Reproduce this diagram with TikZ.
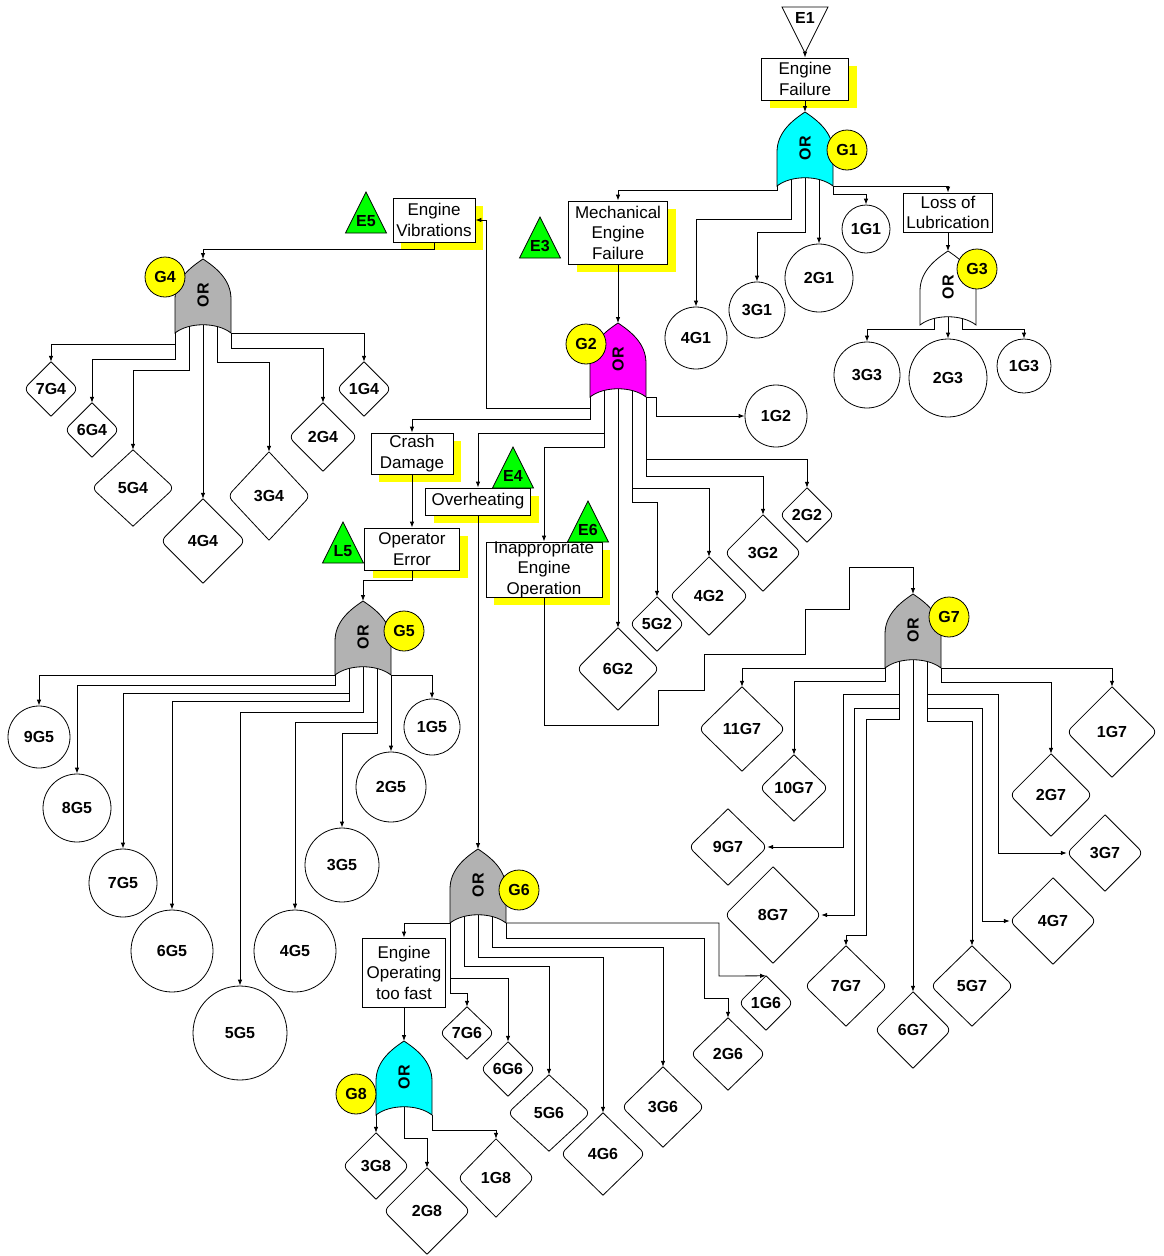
\documentclass[tikz,border=0pt]{standalone}
\usepackage{fontspec}
\setmainfont{Liberation Sans}
\usetikzlibrary{arrows.meta,shadows}

\definecolor{gategray}{RGB}{178,178,178}
\definecolor{gatecyan}{RGB}{0,255,255}
\definecolor{gatemagenta}{RGB}{255,0,255}
\definecolor{tagyellow}{RGB}{255,255,0}
\definecolor{trigreen}{RGB}{0,255,0}
\newcommand{\boxfont}{\fontsize{17}{20.5}\selectfont}
\newcommand{\lblfont}{\fontsize{16}{19}\selectfont\bfseries}

\pgfdeclarelayer{front}
\pgfsetlayers{main,front}

\tikzset{
    conn/.style={draw, line width=0.8pt, -{Latex[length=6pt,width=4.5pt]}},
    evbox/.style={draw, fill=white, align=center, inner sep=1pt, font=\boxfont, line width=0.8pt},
    evtext/.style={align=center, inner sep=0pt, font=\boxfont},
    shad/.style={drop shadow={shadow xshift=8pt, shadow yshift=-8pt, fill=tagyellow, opacity=1}},
    basic/.style={circle, draw, inner sep=0pt, font=\lblfont, line width=0.8pt},
    diam/.style={rectangle, inner sep=0pt, font=\lblfont},
    diamline/.style={line width=0.8pt, rounded corners=6pt},
    glabel/.style={circle, draw, fill=tagyellow, minimum size=40pt, inner sep=0pt, font=\lblfont, line width=0.8pt},
    pics/orgate/.style={code={
        \draw[line width=0.8pt, fill=#1] (0,0) .. controls (-12,8) and (-28,20) .. (-28,40) -- (-28,74)
            .. controls (-14,63) and (14,63) .. (28,74) -- (28,40) .. controls (28,20) and (12,8) .. (0,0) -- cycle;
        \node[rotate=90, font=\lblfont, inner sep=0pt] (-or) at (0,36) {OR};
        \coordinate (-in) at (0,0);
        \coordinate (-a) at (-14,60);
        \coordinate (-b) at (0,60);
        \coordinate (-c) at (14,60);
        \coordinate (-l) at (-28,74);
        \coordinate (-r) at (28,74);
    }},
    pics/evtri/.style={code={
        \draw[line width=0.8pt, fill=trigreen] (-20.5,0) -- (0,-41) -- (20.5,0) -- cycle;
        \node[font=\lblfont, inner sep=0pt] (-t) at (0,-12) {#1};
    }}
}

\begin{document}
\begin{tikzpicture}[x=1pt, y=-1pt]
    \useasboundingbox (0,0) rectangle (1164,1256);

    % intermediate events
    \node[evbox, shad, minimum width=87, minimum height=42] (ef) at (805,79) {Engine\\Failure};
    \node[evbox, shad, minimum width=99, minimum height=63] (mef) at (618,232.5) {Mechanical\\Engine\\Failure};
    \node[evbox, minimum width=89, minimum height=39] (lol) at (948,212.5) {Loss of\\Lubrication};
    \node[evbox, shad, minimum width=82, minimum height=44] (ev) at (434,220) {Engine\\Vibrations};
    \node[evbox, shad, minimum width=82, minimum height=41] (cd) at (412,453.5) {Crash\\Damage};
    \node[evbox, shad, minimum width=105, minimum height=27] (oh) at (478,501.5) {Overheating};
    \node[evbox, shad, minimum width=95, minimum height=42] (op) at (412,549) {Operator\\Error};
    \node[evbox, shad, minimum width=116, minimum height=55] (ieo) at (544,569.5) {};
    \node[evtext] (ieot) at (ieo) {Inappropriate\\Engine\\Operation};
    \node[evbox, minimum width=83, minimum height=69] (eotf) at (404,972.5) {Engine\\Operating\\too fast};

    % top event
    \draw[line width=0.8pt] (782,7) -- (828,7) -- (805,53) -- cycle;
    \node[font=\lblfont, inner sep=0pt] (e1) at (805,18) {E1};
    \coordinate (e1tip) at (805,53);

    % transfer triangles
    \pic (e3) at (540,258) {evtri=E3};
    \pic (e4) at (513,488) {evtri=E4};
    \pic (e5) at (366,233) {evtri=E5};
    \pic (e6) at (588,542) {evtri=E6};
    \pic (l5) at (343,563) {evtri=L5};

    % basic events
    \foreach \n/\x/\y/\r in {1G1/866/229/24, 2G1/819/278/34, 3G1/757/310/28, 4G1/696/338/31,
        1G2/776/416/31, 1G3/1024/366/27, 2G3/948/378/39, 3G3/867/375/33,
        1G5/432/727/28, 2G5/391/787/35, 3G5/342/865/37, 4G5/295/951/41,
        5G5/240/1033/47, 6G5/172/951/41, 7G5/123/883/34, 8G5/77/808/34, 9G5/39/737/31}
        \node[basic, minimum size=2*\r] (c\n) at (\x,\y) {\n};

    % undeveloped events
    \foreach \n/\x/\y/\w/\h in {1G4/364/389/27/27, 2G4/323/437/34/34, 3G4/269/496/41/44,
        4G4/203/541/42/42, 5G4/133/488/41/38, 6G4/92/430/27/27, 7G4/51/389/27/27,
        2G2/807/515/27/27, 3G2/763/553/38/38, 4G2/709/596/39/39, 5G2/657/624/27/27, 6G2/618/669/41/41,
        1G6/766/1003/27/27, 2G6/728/1054/37/36, 3G6/663/1107/41/40, 4G6/603/1154/42/41,
        5G6/549/1113/41/38, 6G6/508/1069/27/27, 7G6/467/1033/27/26,
        1G8/496/1178/38/39, 2G8/427/1211/43/43, 3G8/376/1166/33/33,
        1G7/1112/732/45/45, 2G7/1051/795/41/41, 3G7/1105/853/38/38, 4G7/1053/921/43/43,
        5G7/972/986/41/40, 6G7/913/1030/38/38, 7G7/846/986/41/40, 8G7/773/915/48/48,
        9G7/728/847/39/38, 10G7/794/788/34/33, 11G7/742/729/43/42}
        {
            \node[diam, minimum width=2*\w, minimum height=2*\h] (e\n) at (\x,\y) {\n};
            \draw[diamline] (e\n.north) -- (e\n.west) -- (e\n.south);
            \draw[diamline] (e\n.north) -- (e\n.east) -- (e\n.south);
        }

    % gates
    \begin{pgfonlayer}{front}
        \pic (g1) at (805,112) {orgate=gatecyan};
        \pic (g2) at (618,323) {orgate=gatemagenta};
        \pic (g3) at (948,251) {orgate=white};
        \pic (g4) at (203,259) {orgate=gategray};
        \pic (g5) at (363,601) {orgate=gategray};
        \pic (g6) at (478,849) {orgate=gategray};
        \pic (g7) at (913,594) {orgate=gategray};
        \pic (g8) at (404,1041) {orgate=gatecyan};
        \foreach \n/\x/\y in {G1/847/150, G2/586/344, G3/977/269, G4/165/277,
            G5/404/631, G6/519/890, G7/949/617, G8/356/1094}
            \node[glabel] (l\n) at (\x,\y) {\n};
    \end{pgfonlayer}

    % G1
    \draw[conn] (e1tip) -- (ef.north);
    \draw[conn] (ef.south) -- (g1-in);
    \draw[conn] (g1-l) -- ++(0,4) -| (mef.north);
    \draw[conn] (g1-a) -- ++(0,47) -| (c4G1.north);
    \draw[conn] (g1-b) -- ++(0,60) -| (c3G1.north);
    \draw[conn] (g1-c) -- (c2G1.north);
    \draw[conn] (g1-r) -- ++(0,8) -| (c1G1.north);
    \draw[conn] (g1-r) -| (lol.north);
    % G3
    \draw[conn] (lol.south) -- (g3-in);
    \draw[conn] (g3-a) -- ++(0,18) -| (c3G3.north);
    \draw[conn] (g3-b) -- (c2G3.north);
    \draw[conn] (g3-c) -- ++(0,18) -| (c1G3.north);
    % G2
    \draw[conn] (mef.south) -- (g2-in);
    \draw[conn] (g2-l) |- (486,408) |- (ev.east);
    \draw[conn] (g2-l) -- ++(0,22) -| (cd.north);
    \draw[conn] (g2-a) -- ++(0,50) -| (oh.north);
    \draw[conn] (g2-a) -- ++(0,64) -| (ieo.north);
    \draw[conn] (g2-b) -- (e6G2.north);
    \draw[conn] (g2-c) -- ++(0,105) -| (e4G2.north);
    \draw[conn] (g2-c) -- ++(0,119) -| (e5G2.north);
    \draw[conn] (g2-r) -- ++(0,62) -| (e2G2.north);
    \draw[conn] (g2-r) -- ++(0,79) -| (e3G2.north);
    \draw[conn] (g2-r) -- ++(10,0) |- (c1G2.west);
    % G4
    \draw[conn] (ev.south) -- ++(0,7) -| (g4-in);
    \draw[conn] (g4-l) -- ++(0,11) -| (e7G4.north);
    \draw[conn] (g4-l) -- ++(0,26) -| (e6G4.north);
    \draw[conn] (g4-a) -- ++(0,51) -| (e5G4.north);
    \draw[conn] (g4-b) -- (e4G4.north);
    \draw[conn] (g4-c) -- ++(0,43) -| (e3G4.north);
    \draw[conn] (g4-r) -- ++(0,15) -| (e2G4.north);
    \draw[conn] (g4-r) -| (e1G4.north);
    % G5
    \draw[conn] (cd.south) -- (op.north);
    \draw[conn] (op.south) -- ++(0,10) -| (g5-in);
    \draw[conn] (g5-l) -| (c9G5.north);
    \draw[conn] (g5-l) -- ++(0,10) -| (c8G5.north);
    \draw[conn] (g5-a) -- ++(0,32) -| (c7G5.north);
    \draw[conn] (g5-a) -- ++(0,40) -| (c6G5.north);
    \draw[conn] (g5-b) -- ++(0,51) -| (c5G5.north);
    \draw[conn] (g5-c) -- ++(0,61) -| (c4G5.north);
    \draw[conn] (g5-c) -- ++(0,72) -| (c3G5.north);
    \draw[conn] (g5-r) -- (c2G5.north);
    \draw[conn] (g5-r) -| (c1G5.north);
    % G6
    \draw[conn] (oh.south) -- (g6-in);
    \draw[conn] (g6-l) -| (eotf.north);
    \draw[conn] (g6-l) -- ++(0,70) -| (e7G6.north);
    \draw[conn] (g6-l) -- ++(0,55) -| (e6G6.north);
    \draw[conn] (g6-a) -- ++(0,57) -| (e5G6.north);
    \draw[conn] (g6-b) -- ++(0,48) -| (e4G6.north);
    \draw[conn] (g6-c) -- ++(0,38) -| (e3G6.north);
    \draw[conn] (g6-r) -- ++(0,15) -| (704,998) -| (e2G6.north);
    \draw[conn] (g6-r) -| (719,976) -- (e1G6.north);
    % G8
    \draw[conn] (eotf.south) -- (g8-in);
    \draw[conn] (g8-l) -- (e3G8.north);
    \draw[conn] (g8-b) -- ++(0,37) -| (e2G8.north);
    \draw[conn] (g8-r) -- ++(0,15) -| (e1G8.north);
    % G7
    \draw[conn] (ieo.south) |- (658,725) |- (704,690) |- (805,654) |- (849,609) -- ++(0,-42) -| (g7-in);
    \draw[conn] (g7-l) -| (e11G7.north);
    \draw[conn] (g7-l) -- ++(0,13) -| (e10G7.north);
    \draw[conn] (g7-a) -- ++(0,40) -- ++(-56,0) |- (e9G7.east);
    \draw[conn] (g7-a) -- ++(0,54) -- ++(-45,0) |- (e8G7.east);
    \draw[conn] (g7-a) -- ++(0,65) -- ++(-33,0) -- ++(0,216) -| (e7G7.north);
    \draw[conn] (g7-b) -- (e6G7.north);
    \draw[conn] (g7-c) -- ++(0,67) -| (e5G7.north);
    \draw[conn] (g7-c) -- ++(0,54) -- ++(55,0) |- (e4G7.west);
    \draw[conn] (g7-c) -- ++(0,40) -- ++(71,0) |- (e3G7.west);
    \draw[conn] (g7-r) -- ++(0,14) -| (e2G7.north);
    \draw[conn] (g7-r) -| (e1G7.north);
\end{tikzpicture}
\end{document}
